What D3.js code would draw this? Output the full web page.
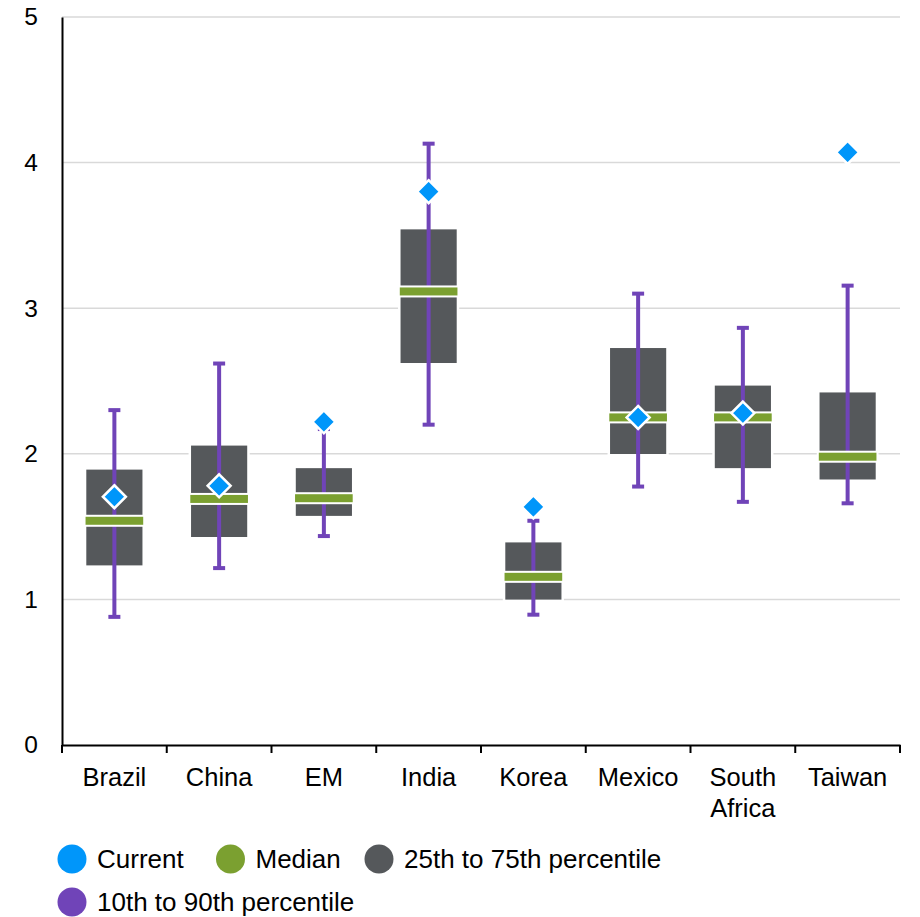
<!DOCTYPE html>
<html>
<head>
<meta charset="utf-8">
<script src="https://cdn.jsdelivr.net/npm/d3@7"></script>
<style>
  html, body { margin: 0; padding: 0; background: #fff; }
  svg { display: block; font-family: "Liberation Sans", Arial, sans-serif; }
</style>
</head>
<body>
<svg id="chart" width="920" height="917"></svg>
<script>
// ---- data ----
const categories = ["Brazil", "China", "EM", "India", "Korea", "Mexico", "South Africa", "Taiwan"];
const p10     = [0.88, 1.215, 1.435, 2.20, 0.895, 1.775, 1.67, 1.66];
const p90     = [2.30, 2.62, 2.17, 4.13, 1.54, 3.10, 2.865, 3.155];
const p25     = [1.225, 1.42, 1.565, 2.615, 0.99, 1.99, 1.893, 1.815];
const p75     = [1.90, 2.065, 1.91, 3.55, 1.40, 2.735, 2.477, 2.43];
const median  = [1.54, 1.69, 1.695, 3.115, 1.155, 2.25, 2.25, 1.98];
const current = [1.705, 1.78, 2.22, 3.80, 1.635, 2.25, 2.28, 4.07];
const yTicks  = [0, 1, 2, 3, 4, 5];
const legendLabels = ["Current", "Median", "25th to 75th percentile", "10th to 90th percentile"];

(function () {
const colors = {
  current: "#0096fa",
  median: "#7ba030",
  box: "#55585b",
  whisker: "#7044b8",
  grid: "#d9d9d9"
};

const svg = d3.select("#chart");
const mLeft = 62, mRight = 900, mTop = 17, mBottom = 745;

const x = d3.scaleBand().domain(categories).range([mLeft, mRight]).padding(0);
const y = d3.scaleLinear().domain([0, 5]).range([mBottom, mTop]);

const rows = categories.map((c, i) => ({
  cat: c, p10: p10[i], p90: p90[i], p25: p25[i], p75: p75[i], med: median[i], cur: current[i]
}));

// gridlines
svg.append("g").selectAll("line").data(yTicks.filter(d => d > 0)).join("line")
  .attr("x1", mLeft).attr("x2", mRight)
  .attr("y1", d => y(d)).attr("y2", d => y(d))
  .attr("stroke", colors.grid).attr("stroke-width", 1.5);

const bw = x.bandwidth();
const cx = d => x(d.cat) + bw / 2;
const boxW = bw * 0.56;

// boxes
svg.append("g").selectAll("rect").data(rows).join("rect")
  .attr("x", d => cx(d) - boxW / 2)
  .attr("y", d => y(d.p75))
  .attr("width", boxW)
  .attr("height", d => y(d.p25) - y(d.p75))
  .attr("fill", colors.box)
  .attr("stroke", "#fff").attr("stroke-width", 2.5);

// whiskers
const wg = svg.append("g");
wg.selectAll("line.w").data(rows).join("line").attr("class", "w")
  .attr("x1", cx).attr("x2", cx)
  .attr("y1", d => y(d.p90)).attr("y2", d => y(d.p10))
  .attr("stroke", colors.whisker).attr("stroke-width", 4);
["p90", "p10"].forEach(k => {
  wg.selectAll("rect." + k).data(rows).join("rect").attr("class", k)
    .attr("x", d => cx(d) - 6).attr("y", d => y(d[k]) - 2)
    .attr("width", 12).attr("height", 4)
    .attr("fill", colors.whisker);
});

// median bars
svg.append("g").selectAll("rect").data(rows).join("rect")
  .attr("x", d => cx(d) - boxW / 2 - 0.5)
  .attr("y", d => y(d.med) - 5)
  .attr("width", boxW + 1)
  .attr("height", 10)
  .attr("fill", colors.median)
  .attr("stroke", "#fff").attr("stroke-width", 2);

// current diamonds
const ds = 11.5;
svg.append("g").selectAll("path").data(rows).join("path")
  .attr("d", d => `M${cx(d)},${y(d.cur) - ds}L${cx(d) + ds},${y(d.cur)}L${cx(d)},${y(d.cur) + ds}L${cx(d) - ds},${y(d.cur)}Z`)
  .attr("fill", colors.current)
  .attr("stroke", "#fff").attr("stroke-width", 2.5).attr("stroke-linejoin", "miter");

// y axis
const yAxis = svg.append("g").attr("transform", `translate(${mLeft},0)`)
  .call(d3.axisLeft(y).tickValues(yTicks).tickSize(0).tickPadding(24).tickFormat(d3.format("d")));
yAxis.select(".domain").attr("stroke", "#000").attr("stroke-width", 2);
yAxis.selectAll("text").attr("font-size", 24.5).attr("fill", "#000")
  .attr("font-family", "'Liberation Sans', Arial, sans-serif");

// x axis
const xAxis = svg.append("g").attr("transform", `translate(0,${mBottom})`)
  .call(d3.axisBottom(x).tickSize(0).tickFormat(""));
xAxis.select(".domain").attr("stroke", "#000").attr("stroke-width", 2);
const edges = categories.map(c => x(c)).concat([mRight]);
xAxis.selectAll("line.edge").data(edges).join("line").attr("class", "edge")
  .attr("x1", d => d).attr("x2", d => d).attr("y1", 0).attr("y2", 8)
  .attr("stroke", "#000").attr("stroke-width", 2);

// category labels
const lab = svg.append("g").selectAll("text").data(categories).join("text")
  .attr("x", d => x(d) + bw / 2)
  .attr("y", 786)
  .attr("text-anchor", "middle")
  .attr("font-size", 25.5)
  .attr("fill", "#000");
lab.each(function(d) {
  const parts = d.split(" ");
  const t = d3.select(this);
  parts.forEach((p, i) => {
    t.append("tspan").attr("x", x(d) + bw / 2).attr("dy", i === 0 ? 0 : 31).text(p);
  });
});

// legend
const legendItems = [
  { label: legendLabels[0], color: colors.current, cx: 72, cy: 859 },
  { label: legendLabels[1], color: colors.median, cx: 230.5, cy: 859 },
  { label: legendLabels[2], color: colors.box, cx: 379, cy: 859 },
  { label: legendLabels[3], color: colors.whisker, cx: 72, cy: 902 }
];
const lg = svg.append("g").selectAll("g").data(legendItems).join("g");
lg.append("ellipse")
  .attr("cx", d => d.cx).attr("cy", d => d.cy)
  .attr("rx", 14.5).attr("ry", 14.5)
  .attr("fill", d => d.color);
lg.append("text")
  .attr("x", d => d.cx + 25).attr("y", d => d.cy + 9)
  .attr("font-size", 26).attr("fill", "#000")
  .text(d => d.label);
})();
</script>
</body>
</html>
